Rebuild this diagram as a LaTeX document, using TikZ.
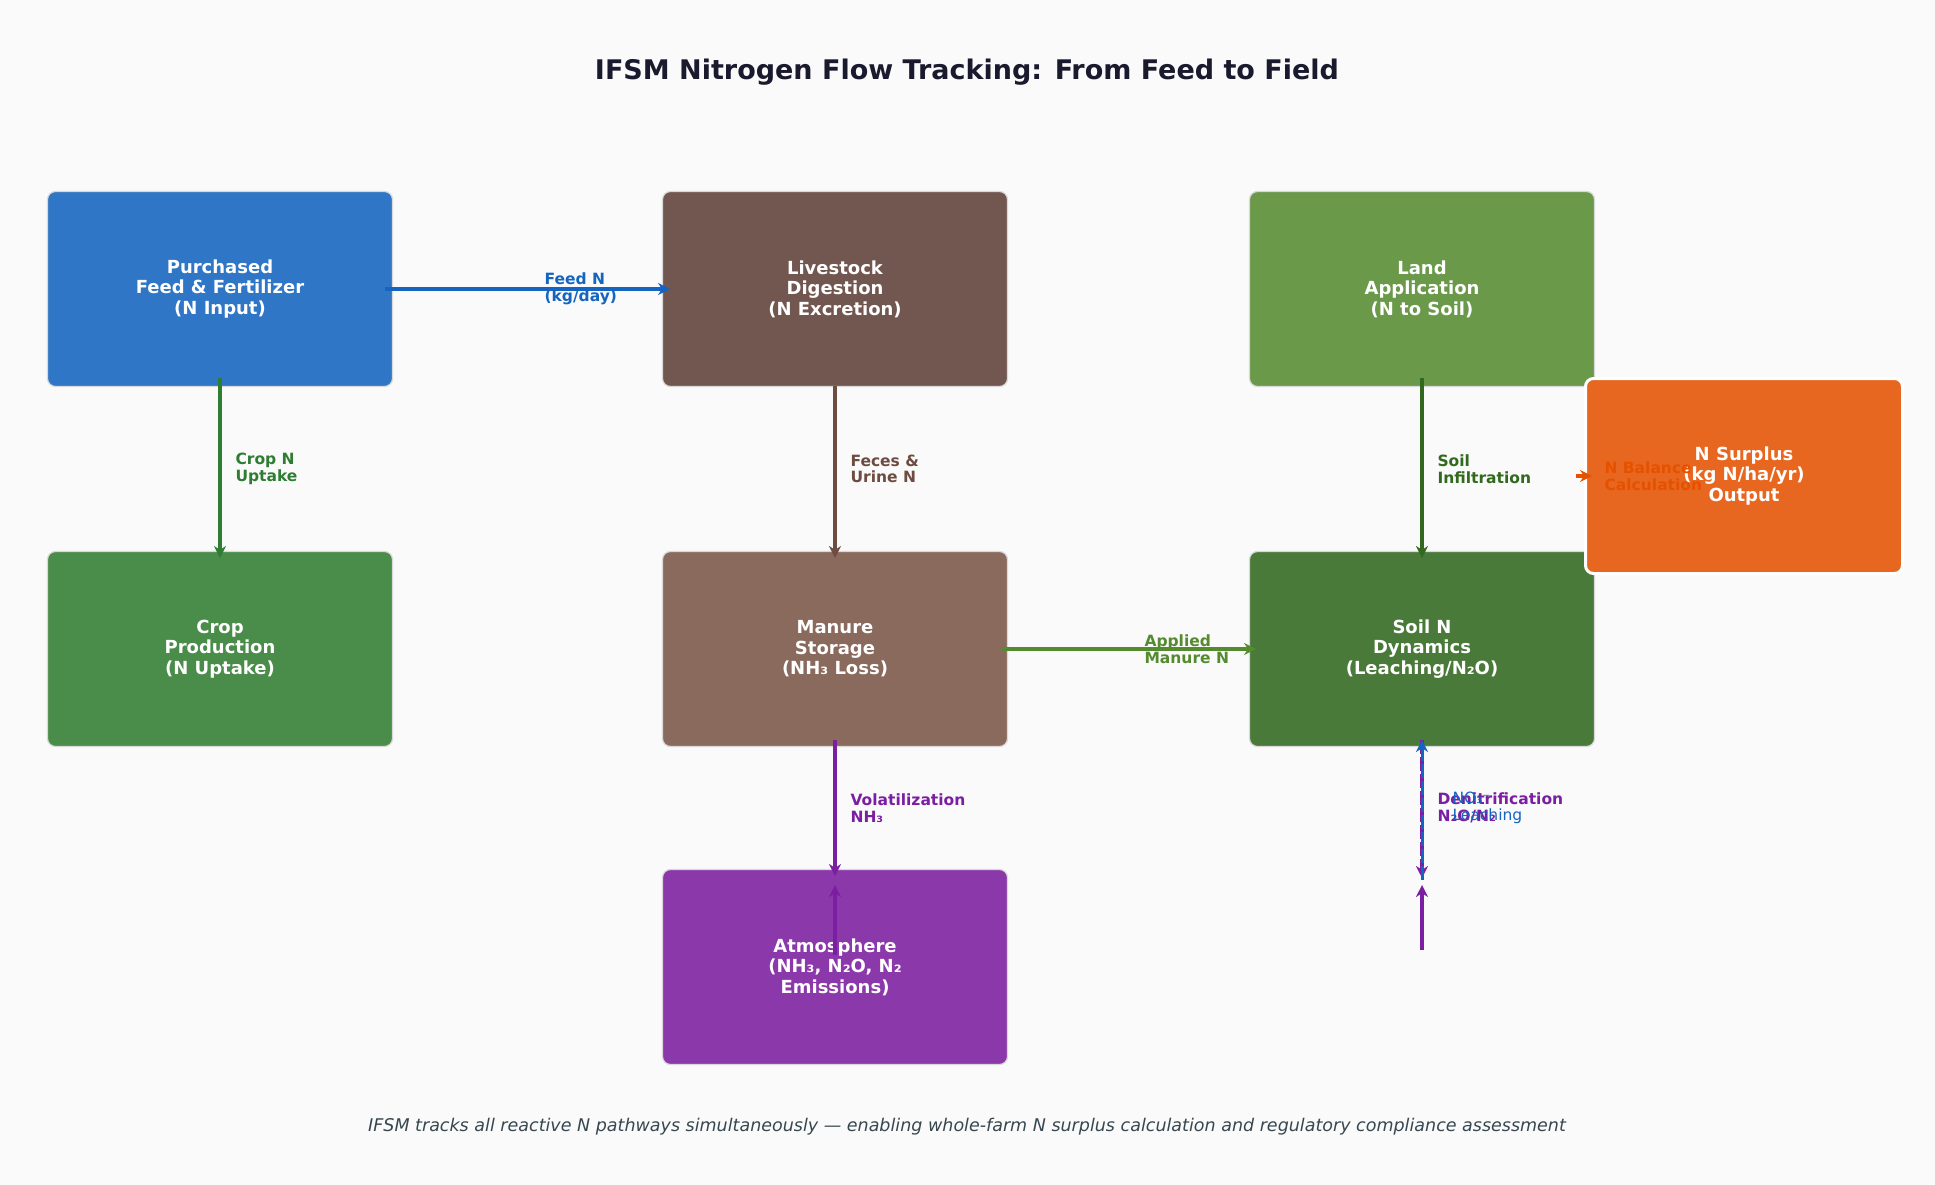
\documentclass[tikz,border=0pt]{standalone}
\usepackage{fontspec}
\setmainfont{DejaVu Sans}
\usetikzlibrary{arrows.meta}
\definecolor{bg}{HTML}{FAFAFA}
\definecolor{cblue}{HTML}{2F76C6}\definecolor{ablue}{HTML}{1565C0}
\definecolor{cbrown}{HTML}{725750}\definecolor{abrown}{HTML}{6D4C41}
\definecolor{cland}{HTML}{6A994A}\definecolor{ccrop}{HTML}{4A8C4A}
\definecolor{cman}{HTML}{8B6A5E}\definecolor{csoil}{HTML}{4A7A3A}
\definecolor{cpurp}{HTML}{8B38AB}\definecolor{apurp}{HTML}{7B1FA2}
\definecolor{corange}{HTML}{E86720}\definecolor{aorange}{HTML}{E65100}
\definecolor{agreen}{HTML}{2E7D32}\definecolor{alg}{HTML}{558B2F}\definecolor{adg}{HTML}{33691E}
\definecolor{ctitle}{HTML}{1A1A2E}\definecolor{cfoot}{HTML}{37474F}
\begin{document}
\begin{tikzpicture}[x=1pt,y=-1pt,
 box/.style={draw=white!85!black,line width=1.2pt,rounded corners=8pt,minimum width=345pt,minimum height=195pt,text=white,align=center,font=\bfseries\fontsize{18}{20.5}\selectfont},
 arr/.style={line width=4pt,-{Stealth[length=12pt,width=12pt]}},
 lab/.style={anchor=west,align=left,font=\bfseries\fontsize{15.5}{16.5}\selectfont}]
\fill[bg] (0,0) rectangle (1935,1185);
\useasboundingbox (0,0) rectangle (1935,1185);
\node[font=\bfseries\fontsize{27}{30}\selectfont,text=ctitle] (title) at (967,72) {IFSM Nitrogen Flow Tracking: From Feed to Field};
\node[box,fill=cblue] (feed) at (220,289) {Purchased\\Feed \& Fertilizer\\(N Input)};
\node[box,fill=cbrown] (live) at (835,289) {Livestock\\Digestion\\(N Excretion)};
\node[box,fill=cland] (land) at (1422,289) {Land\\Application\\(N to Soil)};
\node[box,fill=ccrop] (crop) at (220,649) {Crop\\Production\\(N Uptake)};
\node[box,fill=cman] (man) at (835,649) {Manure\\Storage\\(NH₃ Loss)};
\node[box,fill=csoil] (soil) at (1422,649) {Soil N\\Dynamics\\(Leaching/N₂O)};
\node[box,fill=cpurp] (atm) at (835,967) {Atmosphere\\(NH₃, N₂O, N₂\\Emissions)};
\coordinate (f1) at (385,289); \coordinate (f2) at (670,289);
\draw[arr,ablue] (f1) -- (f2);
\node[lab,text=ablue] at (541,289) {Feed N\\(kg/day)};
\coordinate (c1) at (220,378); \coordinate (c2) at (220,558);
\draw[arr,agreen] (c1) -- (c2);
\node[lab,text=agreen] at (232,469) {Crop N\\Uptake};
\coordinate (l1) at (835,386); \coordinate (l2) at (835,558);
\draw[arr,abrown] (l1) -- (l2);
\node[lab,text=abrown] at (847,469) {Feces \&\\Urine N};
\coordinate (s1) at (1422,378); \coordinate (s2) at (1422,558);
\draw[arr,adg] (s1) -- (s2);
\node[lab,text=adg] at (1434,469) {Soil\\Infiltration};
\coordinate (m1) at (1002,649); \coordinate (m2) at (1256,649);
\draw[arr,alg] (m1) -- (m2);
\node[lab,text=alg] at (1141,649) {Applied\\Manure N};
\coordinate (v1) at (835,740); \coordinate (v2) at (835,876);
\draw[arr,apurp] (v1) -- (v2);
\coordinate (u1) at (835,955); \coordinate (u2) at (835,885);
\draw[arr,apurp] (u1) -- (u2);
\node[lab,text=apurp] at (847,808) {Volatilization\\NH₃};
\coordinate (d1) at (1422,740); \coordinate (d2) at (1422,878);
\coordinate (b1) at (1422,880); \coordinate (b2) at (1422,740);
\coordinate (e1) at (1422,950); \coordinate (e2) at (1422,885);
\draw[arr,apurp,dash pattern=on 14pt off 3pt] (d1) -- (d2);
\draw[arr,ablue,dash pattern=on 14pt off 3pt,line width=3pt] (b1) -- (b2);
\draw[arr,apurp] (e1) -- (e2);
\node[lab,text=apurp] at (1434,808) {Denitrification\\N₂O/N₂};
\node[lab,text=ablue,font=\fontsize{15.5}{16.5}\selectfont] at (1449,808) {NO₃⁻\\Leaching};
\node[box,fill=corange,draw=white,line width=3pt,minimum width=317pt] (sur) at (1744,476) {N Surplus\\(kg N/ha/yr)\\Output};
\coordinate (n1) at (1576,476); \coordinate (n2) at (1592,476);
\draw[arr,aorange] (n1) -- (n2);
\node[lab,text=aorange] at (1601,476) {N Balance\\Calculation};
\node[font=\itshape\fontsize{17.5}{20}\selectfont,text=cfoot] (foot) at (967,1127) {IFSM tracks all reactive N pathways simultaneously — enabling whole-farm N surplus calculation and regulatory compliance assessment};
\end{tikzpicture}
\end{document}
